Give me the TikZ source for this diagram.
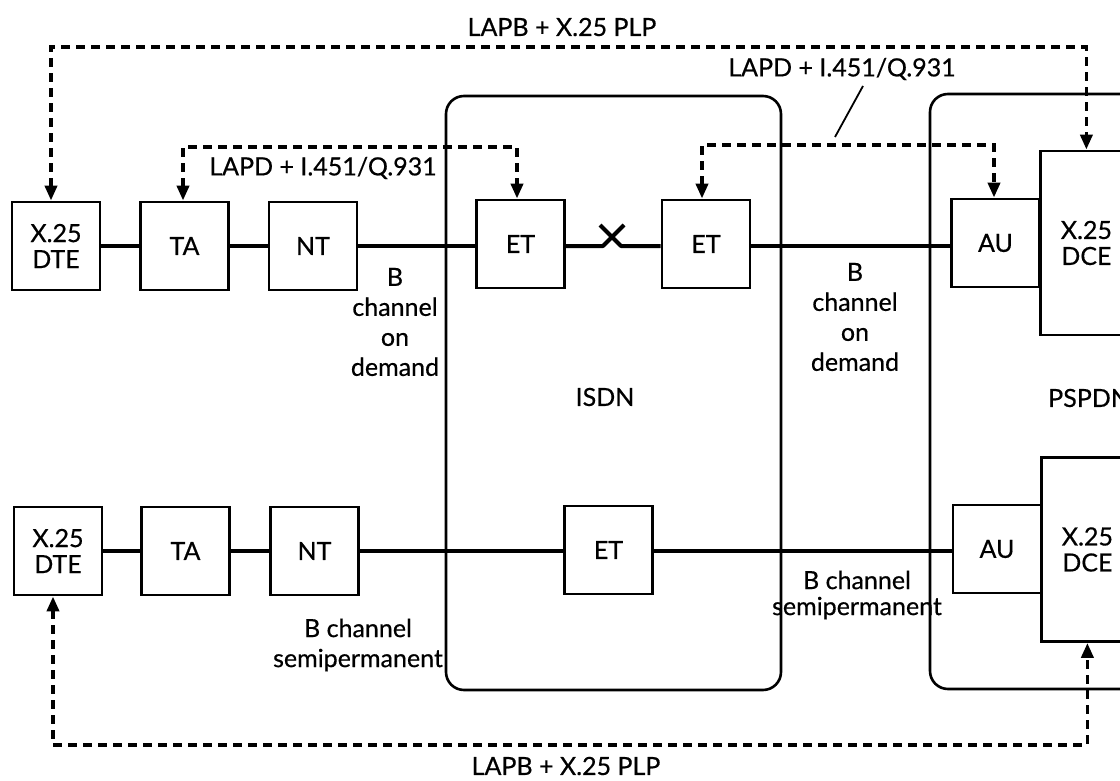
\documentclass[tikz,border=0pt]{standalone}
\usepackage{fontspec}
\setmainfont{Lato}[FakeBold=0.5]
\usetikzlibrary{arrows.meta}
\begin{document}
\begin{tikzpicture}[x=1pt,y=-1pt,
  every node/.style={font=\fontsize{25}{30}\selectfont, inner sep=0pt},
  unit/.style={draw, line width=2.8pt, minimum width=88pt, minimum height=88pt, align=center},
  tall/.style={draw, line width=2.8pt, minimum width=92pt, minimum height=184pt, align=center},
  wire/.style={line width=4pt},
  netbox/.style={line width=2.6pt, rounded corners=18pt},
  proto/.style={line width=3.8pt, dash pattern=on 9pt off 6pt, {Triangle[length=15pt,width=12pt]}-{Triangle[length=15pt,width=12pt]}},
  lbl/.style={align=center}
]
\useasboundingbox (0,0) rectangle (1120,781);
% networks
\draw[netbox] (446,96) rectangle (781,690);
\draw[netbox] (1200,94) -- (930,94) -- (930,689) -- (1200,689);
\node[lbl] (isdn) at (605,397) {ISDN};
\node[lbl, anchor=west] (pspdn) at (1048,398) {PSPDN};
% top row
\node[unit] (dte1) at (56,246) {X.25\\[-4pt]DTE};
\node[unit] (ta1) at (184.5,246) {TA};
\node[unit] (nt1) at (313,246) {NT};
\node[unit] (et1) at (520.5,244) {ET};
\node[unit] (et2) at (706,244) {ET};
\node[unit] (au1) at (995.5,243) {AU};
\node[tall, anchor=west] (dce1) at (1039,243) {X.25\\[-4pt]DCE};
% bottom row
\node[unit] (dte2) at (58,551) {X.25\\[-4pt]DTE};
\node[unit] (ta2) at (185.5,551) {TA};
\node[unit] (nt2) at (314.5,551) {NT};
\node[unit] (et3) at (608.5,550) {ET};
\node[unit] (au2) at (997,549) {AU};
\node[tall, anchor=west] (dce2) at (1040,549.5) {X.25\\[-4pt]DCE};
% wires top
\draw[wire] (dte1) -- (ta1);
\draw[wire] (ta1) -- (nt1);
\draw[wire] (nt1.east) -- (nt1.east -| et1.west);
\coordinate (swa) at (603,246);
\coordinate (swb) at (624,225);
\coordinate (swc) at (600,225);
\coordinate (swd) at (621,246);
\draw[wire, line join=round] (et1.east |- swa) -- (swa) -- (swb);
\draw[wire, line join=round] (swc) -- (swd) -- (swd -| et2.west);
\draw[wire] (et2.east |- swa) -- (swa -| au1.west);
% wires bottom
\draw[wire] (dte2) -- (ta2);
\draw[wire] (ta2) -- (nt2);
\draw[wire] (nt2.east) -- (nt2.east -| et3.west);
\draw[wire] (et3.east |- nt2.east) -- (nt2.east -| au2.west);
% protocol paths
\coordinate (ytop) at (0,47);
\coordinate (ymid1) at (0,147);
\coordinate (ymid2) at (0,145);
\coordinate (ybot) at (0,745);
\draw[proto] ([xshift=-5pt]dte1.north) -- ([xshift=-5pt]dte1.north |- ytop) -- (dce1.north |- ytop) -- (dce1.north);
\draw[proto] ([xshift=-1.5pt]ta1.north) -- ([xshift=-1.5pt]ta1.north |- ymid1) -- ([xshift=-3.5pt]et1.north |- ymid1) -- ([xshift=-3.5pt]et1.north);
\draw[proto] ([xshift=-4pt]et2.north) -- ([xshift=-4pt]et2.north |- ymid2) -- ([xshift=-1.5pt]au1.north |- ymid2) -- ([xshift=-1.5pt]au1.north);
\draw[proto] ([xshift=-5pt]dte2.south) -- ([xshift=-5pt]dte2.south |- ybot) -- (dce2.south |- ybot) -- (dce2.south);
% labels
\node[lbl] (ltop) at (562,27) {LAPB + X.25 PLP};
\node[lbl] (lbot) at (566,766) {LAPB + X.25 PLP};
\node[lbl] (lapd1) at (323,168) {LAPD + I.451/Q.931};
\node[lbl] (lapd2) at (842,69) {LAPD + I.451/Q.931};
\coordinate (sl1) at (863,86);
\coordinate (sl2) at (835,137);
\draw[line width=1.8pt] (sl1) -- (sl2);
\node[lbl, font=\fontsize{25}{30}\selectfont] (bod1) at (395,322) {B\\channel\\on\\demand};
\node[lbl, font=\fontsize{25}{30}\selectfont] (bod2) at (855,317) {B\\channel\\on\\demand};
\node[lbl, font=\fontsize{25}{30}\selectfont] (bsp1) at (358,645) {B channel\\semipermanent};
\node[lbl, font=\fontsize{25}{26}\selectfont] (bsp2) at (857,595) {B channel\\semipermanent};
\end{tikzpicture}
\end{document}
